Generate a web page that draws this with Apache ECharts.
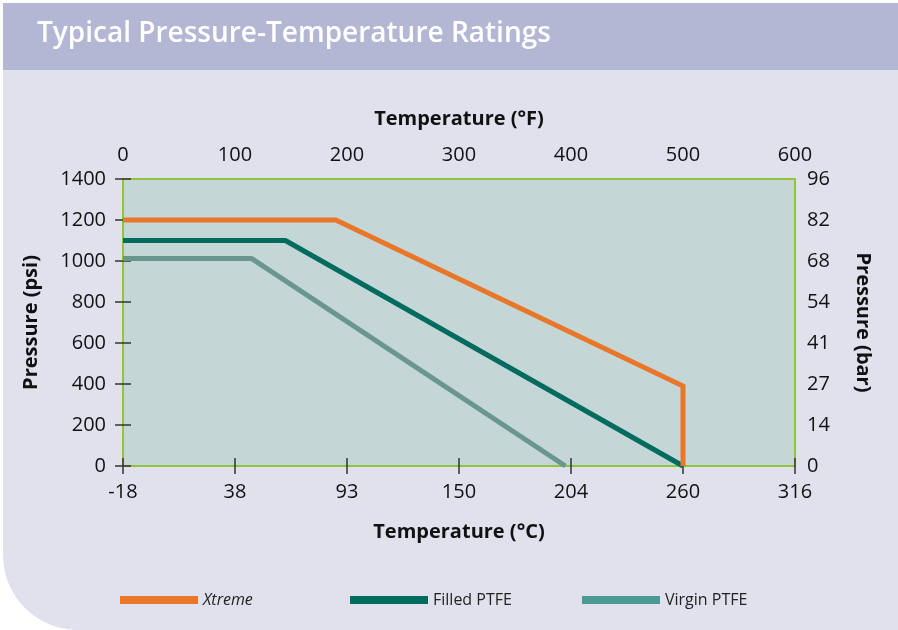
<!DOCTYPE html>
<html><head><meta charset="utf-8">
<script src="https://cdn.jsdelivr.net/npm/echarts@6/dist/echarts.min.js"></script>
<style>html,body{margin:0;padding:0;background:#fff;}#c{width:898px;height:630px;}</style>
</head><body><div id="c"></div>
<script>
const titleText = 'Typical Pressure-Temperature Ratings';
const seriesNames = ['Xtreme', 'Filled PTFE', 'Virgin PTFE'];
// [temperature °F, pressure psi]
const xtremeData = [[0, 1200], [190, 1200], [500, 390], [500, 0]];
const filledData = [[0, 1100], [145, 1100], [500, 0]];
const virginData = [[0, 1012], [115, 1012], [395, 0]];
const fahrenheitLabels = ['0', '100', '200', '300', '400', '500', '600'];
const celsiusLabels = ['-18', '38', '93', '150', '204', '260', '316'];
const psiLabels = ['0', '200', '400', '600', '800', '1000', '1200', '1400'];
const barLabels = ['0', '14', '27', '41', '54', '68', '82', '96'];

const font = 'Open Sans';
const tickColor = '#333';
const green = '#8cc63f';
const chart = echarts.init(document.getElementById('c'));
const axisCommon = {
  axisLine: {show: true, lineStyle: {color: green, width: 2}},
  axisTick: {show: true, length: 8, lineStyle: {color: tickColor, width: 1.5}},
  splitLine: {show: false},
  axisLabel: {color: '#111', fontFamily: font, fontSize: 20},
  nameTextStyle: {color: '#111', fontFamily: font, fontSize: 20, fontWeight: 'bold'},
  nameLocation: 'middle'
};
chart.setOption({
  animation: false,
  graphic: [
    {type: 'rect', shape: {x: 3, y: 3, width: 895, height: 627, r: [0, 0, 0, 75]}, style: {fill: '#e1e1ee'}, z: -10},
    {type: 'rect', shape: {x: 3, y: 3, width: 895, height: 67}, style: {fill: '#b3b7d4'}, z: -9},
    {type: 'text', left: 37, top: 20, style: {text: titleText, fill: '#fff', font: '600 28px "Open Sans"'}}
  ],
  grid: {left: 123, right: 103, top: 179, bottom: 164, show: true, backgroundColor: '#c5d6d6', borderColor: green, borderWidth: 2},
  xAxis: [
    Object.assign({}, axisCommon, {type: 'value', position: 'top', min: 0, max: 600, interval: 100,
      name: 'Temperature (°F)', nameGap: 50,
      axisLabel: Object.assign({}, axisCommon.axisLabel, {margin: 14, formatter: v => fahrenheitLabels[Math.round(v / 100)]})}),
    Object.assign({}, axisCommon, {type: 'value', position: 'bottom', min: 0, max: 600, interval: 100,
      name: 'Temperature (°C)', nameGap: 56,
      axisLabel: Object.assign({}, axisCommon.axisLabel, {margin: 16, formatter: v => celsiusLabels[Math.round(v / 100)]})})
  ],
  yAxis: [
    Object.assign({}, axisCommon, {type: 'value', position: 'left', min: 0, max: 1400, interval: 200,
      name: 'Pressure (psi)', nameGap: 82,
      axisLabel: Object.assign({}, axisCommon.axisLabel, {margin: 17, formatter: v => psiLabels[Math.round(v / 200)]})}),
    Object.assign({}, axisCommon, {type: 'value', position: 'right', min: 0, max: 1400, interval: 200,
      name: 'Pressure (bar)', nameGap: 58, nameRotate: -90,
      axisLabel: Object.assign({}, axisCommon.axisLabel, {margin: 12, formatter: v => barLabels[Math.round(v / 200)]})})
  ],
  legend: [
    {data: [seriesNames[0]], left: 120, top: 592, padding: 0, itemWidth: 78, itemHeight: 8, icon: 'rect',
      textStyle: {fontFamily: font, fontSize: 16, fontStyle: 'italic', color: '#222'}},
    {data: [seriesNames[1]], left: 350, top: 592, padding: 0, itemWidth: 78, itemHeight: 8, icon: 'rect',
      textStyle: {fontFamily: font, fontSize: 16, color: '#222'}},
    {data: [seriesNames[2]], left: 582, top: 592, padding: 0, itemWidth: 78, itemHeight: 8, icon: 'rect',
      textStyle: {fontFamily: font, fontSize: 16, color: '#222'}}
  ],
  series: [
    {name: seriesNames[0], type: 'line', xAxisIndex: 0, yAxisIndex: 0, data: xtremeData, symbol: 'none',
      lineStyle: {color: '#e8772a', width: 5, join: 'miter'}, itemStyle: {color: '#e8772a'}, z: 5},
    {name: seriesNames[1], type: 'line', xAxisIndex: 0, yAxisIndex: 0, data: filledData, symbol: 'none',
      lineStyle: {color: '#006b5f', width: 5}, itemStyle: {color: '#006b5f'}, z: 4},
    {name: seriesNames[2], type: 'line', xAxisIndex: 0, yAxisIndex: 0, data: virginData, symbol: 'none',
      lineStyle: {color: '#69968f', width: 5}, itemStyle: {color: '#4a9992'}, z: 3}
  ]
});
</script></body></html>
